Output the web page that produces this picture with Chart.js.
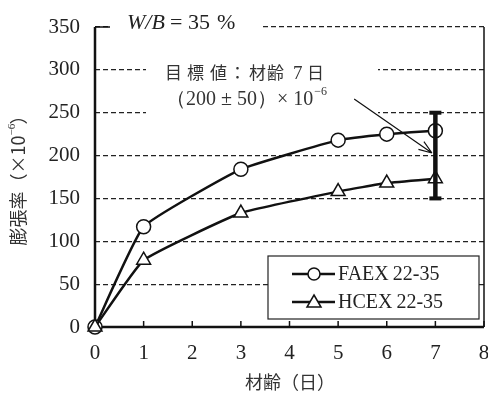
<!DOCTYPE html>
<html>
<head>
<meta charset="utf-8">
<script src="https://cdn.jsdelivr.net/npm/chart.js@4/dist/chart.umd.min.js"></script>
<style>
  body { margin: 0; background: #fff; }
  #wrap { width: 488px; height: 398px; }
</style>
</head>
<body>
<div id="wrap"><canvas id="theChart" width="488" height="398"></canvas></div>
<script>
// data
var days = [0, 1, 3, 5, 6, 7];
var faex = [0, 117, 184, 218, 225, 229];
var hcex = [0, 78, 133, 158, 168, 173];
var targetDay = 7;
var targetRange = [150, 250];
var xTicks = [0, 1, 2, 3, 4, 5, 6, 7, 8];
var yTicks = [0, 50, 100, 150, 200, 250, 300, 350];

var serif = "'Liberation Serif', 'DejaVu Serif', serif";
var cjk = "'Noto Sans CJK JP', sans-serif";

function pts(xs, ys) {
  return xs.map(function(x, i) { return { x: x, y: ys[i] }; });
}

// white boxes, frame, labels, arrow
var annot = {
  id: 'annot',
  beforeDatasetsDraw: function(chart) {
    var c = chart.ctx, xs = chart.scales.x;
    var ca = chart.chartArea;
    c.save();
    c.fillStyle = '#fff';
    // box behind W/B text (covers top gridline)
    c.fillRect(110, 10, 152, 26);
    // box behind target text
    c.fillRect(146, 55, 232, 64);

    // frame: thin right, thick left/bottom
    c.lineWidth = 1.5;
    c.strokeStyle = '#111';
    c.beginPath();
    c.moveTo(ca.right, ca.top);
    c.lineTo(ca.right, ca.bottom);
    c.stroke();
    c.lineWidth = 2.5;
    c.beginPath();
    c.moveTo(ca.left, ca.top);
    c.lineTo(ca.left, ca.bottom);
    c.lineTo(ca.right, ca.bottom);
    c.stroke();
    // x ticks pointing up
    c.lineWidth = 1.5;
    xTicks.forEach(function(v) {
      var px = xs.getPixelForValue(v);
      c.beginPath();
      c.moveTo(px, ca.bottom);
      c.lineTo(px, ca.bottom - 6);
      c.stroke();
    });
    // short tick at top left
    c.beginPath();
    c.moveTo(ca.left, ca.top);
    c.lineTo(ca.left + 15, ca.top);
    c.stroke();
    c.restore();
  },
  afterDatasetsDraw: function(chart) {
    var c = chart.ctx, xs = chart.scales.x, ys = chart.scales.y;
    c.save();
    c.fillStyle = '#222';
    c.textBaseline = 'alphabetic';
    // W/B = 35 %
    c.font = 'italic 22px ' + serif;
    c.fillText('W/B', 127, 29);
    c.font = '22px ' + serif;
    c.fillText('=', 170, 29);
    c.fillText('35', 188, 29);
    c.fillText('%', 217, 29);

    // target text
    c.fillStyle = '#333';
    var chars = ['目', '標', '値', '：', '材', '齢', '7', '日'];
    var cx = [165, 187, 210, 229, 249, 267, 293, 307];
    chars.forEach(function(ch, i) {
      c.font = (ch === '7' ? '19px ' + serif : '17px ' + cjk);
      c.fillText(ch, cx[i], 79);
    });
    c.font = '20px ' + serif;
    c.fillText('（200 ± 50）× 10', 166, 105);
    var t = c.measureText('（200 ± 50）× 10').width;
    c.font = '12px ' + serif;
    c.fillText('−6', 166 + t + 1, 95);

    // arrow
    var x0 = xs.getPixelForValue(5.33), y0 = ys.getPixelForValue(266);
    var x1 = xs.getPixelForValue(6.93), y1 = ys.getPixelForValue(203);
    c.strokeStyle = '#111';
    c.lineWidth = 1.2;
    c.beginPath();
    c.moveTo(x0, y0);
    c.lineTo(x1, y1);
    var a = Math.atan2(y1 - y0, x1 - x0);
    c.moveTo(x1, y1);
    c.lineTo(x1 - 14 * Math.cos(a - 0.35), y1 - 14 * Math.sin(a - 0.35));
    c.moveTo(x1, y1);
    c.lineTo(x1 - 14 * Math.cos(a + 0.35), y1 - 14 * Math.sin(a + 0.35));
    c.stroke();
    c.restore();
  },
  afterDraw: function(chart) {
    var c = chart.ctx;
    c.save();
    // y title, rotated
    c.translate(18, 176);
    c.rotate(-Math.PI / 2);
    c.fillStyle = '#333';
    c.textBaseline = 'middle';
    c.textAlign = 'left';
    c.font = '18px ' + cjk;
    var s1 = '膨張率（×10';
    var w1 = c.measureText(s1).width;
    var tot = w1 + 11 + c.measureText('）').width;
    var sx = -tot / 2;
    c.fillText(s1, sx, 0);
    c.font = '11px ' + serif;
    c.fillText('−6', sx + w1, -6);
    c.font = '18px ' + cjk;
    c.fillText('）', sx + w1 + 11, 0);
    c.restore();

    c.save();
    c.fillStyle = '#333';
    c.textAlign = 'center';
    c.textBaseline = 'middle';
    c.font = '18px ' + cjk;
    c.fillText('材齢（日）', 290, 382);
    c.restore();
  }
};

var ctx = document.getElementById('theChart').getContext('2d');
var theChart = new Chart(ctx, {
  type: 'line',
  data: {
    datasets: [
      {
        label: 'FAEX 22-35',
        data: pts(days, faex),
        borderColor: '#111',
        borderWidth: 2.5,
        backgroundColor: '#fff',
        pointStyle: 'circle',
        pointRadius: 7,
        pointBorderWidth: 1.5,
        pointBorderColor: '#111',
        pointBackgroundColor: '#fff',
        tension: 0.12,
        clip: false,
        order: 2
      },
      {
        label: 'HCEX 22-35',
        data: pts(days, hcex),
        borderColor: '#111',
        borderWidth: 2.5,
        backgroundColor: '#fff',
        pointStyle: 'triangle',
        pointRadius: 8,
        pointBorderWidth: 1.5,
        pointBorderColor: '#111',
        pointBackgroundColor: '#fff',
        tension: 0.12,
        clip: false,
        order: 1
      },
      {
        label: 'target',
        data: [{ x: targetDay, y: targetRange[0] }, { x: targetDay, y: targetRange[1] }],
        borderColor: '#111',
        borderWidth: 4.5,
        pointStyle: 'line',
        pointRadius: 6,
        pointBorderWidth: 4,
        pointBorderColor: '#111',
        order: -1
      }
    ]
  },
  options: {
    responsive: false,
    animation: false,
    layout: { autoPadding: false, padding: { top: 27, right: 4, left: 0, bottom: 0 } },
    plugins: {
      legend: { display: false },
      tooltip: { enabled: false }
    },
    scales: {
      x: {
        type: 'linear',
        min: 0, max: 8,
        afterBuildTicks: function(s) { s.ticks = xTicks.map(function(v) { return { value: v }; }); },
        afterFit: function(s) { s.height = 71; s.paddingLeft = 0; s.paddingRight = 0; },
        grid: { display: false, drawTicks: false },
        border: { display: false },
        ticks: {
          color: '#222',
          padding: 14,
          maxRotation: 0,
          font: { family: serif, size: 21 }
        }
      },
      y: {
        type: 'linear',
        min: 0, max: 350,
        afterBuildTicks: function(s) { s.ticks = yTicks.map(function(v) { return { value: v }; }); },
        afterFit: function(s) { s.width = 95; s.paddingTop = 0; s.paddingBottom = 0; },
        grid: {
          drawTicks: false,
          color: function(c) { return (c.tick.value === 0) ? 'rgba(0,0,0,0)' : '#222'; },
          lineWidth: 1.2
        },
        border: { display: false, dash: [5, 3] },
        ticks: {
          color: '#222',
          padding: 15,
          font: { family: serif, size: 21 }
        }
      }
    }
  },
  plugins: [annot, {
    id: 'legendBox',
    afterDraw: function(chart) {
      var c = chart.ctx;
      c.save();
      c.fillStyle = '#fff';
      c.fillRect(268, 256, 211, 63);
      c.strokeStyle = '#222';
      c.lineWidth = 1.2;
      c.strokeRect(268, 256, 211, 63);
      var rows = [
        { y: 274, label: chart.data.datasets[0].label, style: 'circle' },
        { y: 302, label: chart.data.datasets[1].label, style: 'triangle' }
      ];
      rows.forEach(function(r) {
        c.strokeStyle = '#111';
        c.lineWidth = 2.5;
        c.beginPath();
        c.moveTo(292, r.y);
        c.lineTo(335, r.y);
        c.stroke();
        c.fillStyle = '#fff';
        c.lineWidth = 1.5;
        c.beginPath();
        if (r.style === 'circle') {
          c.arc(314, r.y, 6, 0, Math.PI * 2);
        } else {
          c.moveTo(314, r.y - 7);
          c.lineTo(321, r.y + 5);
          c.lineTo(307, r.y + 5);
          c.closePath();
        }
        c.fill();
        c.stroke();
        c.fillStyle = '#222';
        c.font = '20px ' + serif;
        c.textBaseline = 'middle';
        c.fillText(r.label.replace(' ', '\u2009'), 338, r.y + 1);
      });
      c.restore();
    }
  }]
});
</script>
</body>
</html>
